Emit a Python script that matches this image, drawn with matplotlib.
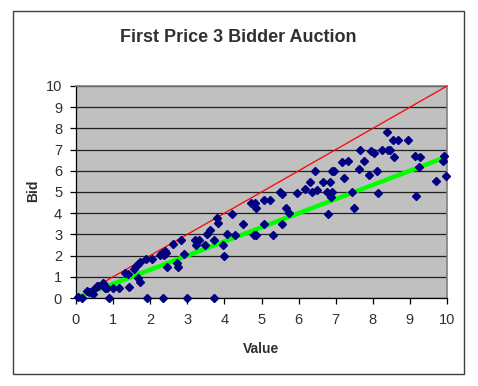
import matplotlib
matplotlib.use("Agg")
import matplotlib.pyplot as plt
from matplotlib.patches import Rectangle

plt.rcParams['font.family'] = ['Liberation Sans', 'DejaVu Sans']

title = "First Price 3 Bidder Auction"
x_label = "Value"
y_label = "Bid"

values = [0.15, 0.05, 0.29, 0.35, 0.47, 0.47, 0.56, 0.60, 0.74, 0.78, 0.83, 0.89, 1.00, 1.16,
          1.32, 1.41, 1.43, 1.55, 1.63, 1.68, 1.73, 1.68, 1.73, 1.92, 1.89, 2.04, 2.26, 2.31,
          2.36, 2.40, 2.42, 2.35, 2.46, 2.62, 2.76, 2.71, 2.82, 2.98, 2.91, 3.21, 3.32, 3.23,
          3.48, 3.52, 3.61, 3.72, 3.72, 3.79, 3.84, 3.95, 3.99, 4.08, 4.20, 4.29, 4.51, 4.71,
          4.83, 4.84, 4.81, 4.86, 5.07, 5.07, 5.23, 5.32, 5.50, 5.55, 5.56, 5.66, 5.73, 5.97,
          6.17, 6.31, 6.35, 6.44, 6.49, 6.67, 6.76, 6.80, 6.85, 6.89, 6.89, 6.95, 6.87, 7.16,
          7.22, 7.34, 7.45, 7.49, 7.64, 7.65, 7.77, 7.91, 7.94, 8.04, 8.12, 8.14, 8.25, 8.37,
          8.42, 8.46, 8.55, 8.57, 8.67, 8.94, 9.14, 9.16, 9.27, 9.25, 9.70, 9.90, 9.93, 9.97]
bids = [0.00, 0.05, 0.33, 0.30, 0.19, 0.40, 0.58, 0.55, 0.69, 0.47, 0.46, 0.00, 0.46, 0.48,
        1.16, 1.11, 0.53, 1.39, 1.50, 1.60, 1.70, 0.92, 0.74, 0.00, 1.83, 1.86, 2.02, 2.14,
        2.05, 2.20, 2.10, 0.00, 1.47, 2.54, 1.47, 1.66, 2.75, 0.00, 2.07, 2.72, 2.72, 2.49,
        2.52, 3.00, 3.19, 2.72, 0.00, 3.79, 3.55, 2.49, 1.97, 3.00, 3.98, 2.99, 3.51, 4.47,
        4.49, 4.24, 2.97, 2.99, 3.51, 4.60, 4.63, 2.96, 4.99, 4.92, 3.51, 4.26, 4.00, 4.95,
        5.15, 5.46, 4.99, 5.98, 5.10, 5.46, 4.99, 3.98, 5.49, 4.99, 5.98, 5.98, 4.76, 6.40,
        5.67, 6.48, 4.99, 4.26, 6.09, 6.99, 6.48, 5.79, 6.95, 6.82, 5.98, 4.95, 6.98, 7.81,
        6.98, 6.98, 7.46, 6.63, 7.46, 7.46, 6.68, 4.79, 6.63, 6.20, 5.54, 6.48, 6.71, 5.74]

diag_x = [0, 10]
diag_y = [0, 10]
equil_x = [0, 10]
equil_y = [0, 6.667]

ticks = list(range(0, 11))

W, H = 478, 386
fig = plt.figure(figsize=(W / 100, H / 100), dpi=100)
fig.patch.set_facecolor('white')

# outer chart border
fig.patches.append(Rectangle((13 / W, 1 - 374 / H), (464 - 13) / W, (374 - 11) / H,
                             transform=fig.transFigure, fill=False,
                             edgecolor='#404040', linewidth=1.0))

ax = fig.add_axes([76 / W, 1 - 298 / H, (447 - 76) / W, (298 - 86) / H])
ax.set_facecolor('#c0c0c0')
ax.set_xlim(0, 10)
ax.set_ylim(0, 10)
ax.set_xticks(ticks)
ax.set_yticks(ticks)
ax.set_xticklabels([str(t) for t in ticks])
ax.set_yticklabels([str(t) for t in ticks])
ax.yaxis.grid(True, color='#202020', linewidth=0.9)
ax.set_axisbelow(True)

for s in ['left', 'bottom']:
    ax.spines[s].set_color('black')
    ax.spines[s].set_linewidth(0.9)
for s in ['top', 'right']:
    ax.spines[s].set_color('#808080')
    ax.spines[s].set_linewidth(1.2)

ax.tick_params(axis='both', direction='out', length=4, width=0.9, color='black',
               labelsize=10.5, labelcolor='#303030')
ax.tick_params(axis='x', pad=7)
ax.tick_params(axis='y', pad=6)

ax.plot(diag_x, diag_y, color='#ff0000', linewidth=0.9, zorder=3)
ax.plot(equil_x, equil_y, color='#00ff00', linewidth=3.2, zorder=3)
ax.plot(values, bids, linestyle='none', marker='D', markersize=4.0,
        color='#000080', zorder=4, clip_on=False)

fig.text(238 / W, 1 - 38 / H, title, ha='center', va='center',
         fontsize=13, fontweight='bold', color='#303030')
fig.text(261 / W, 1 - 349 / H, x_label, ha='center', va='center',
         fontsize=10, fontweight='bold', color='#303030')
fig.text(33 / W, 1 - 191 / H, y_label, ha='center', va='center', rotation=90,
         fontsize=10, fontweight='bold', color='#303030')

fig.savefig('out.png', dpi=100)
